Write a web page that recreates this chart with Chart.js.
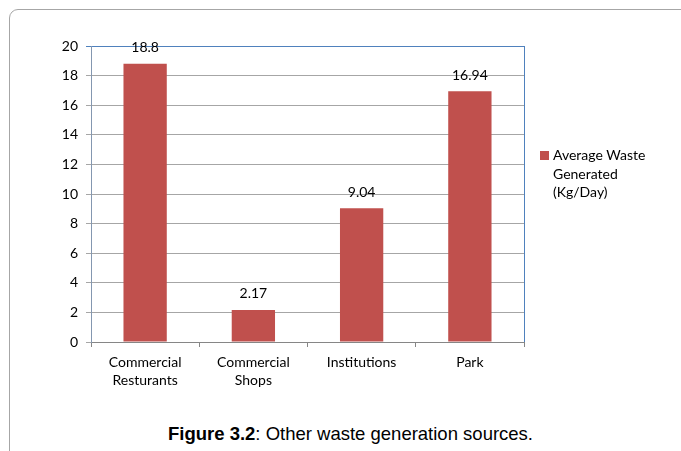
<!DOCTYPE html>
<html>
<head>
<meta charset="utf-8">
<script src="https://cdn.jsdelivr.net/npm/chart.js@4.4.0/dist/chart.umd.min.js"></script>
<style>
  body { margin: 0; background: #fff; width: 681px; height: 451px; overflow: hidden; position: relative; }
  #frame { position: absolute; left: 9px; top: 9px; width: 700px; height: 480px; border: 1px solid #a6a6a6; border-radius: 9px; box-sizing: border-box; }
  #chartBox { position: absolute; left: 0; top: 0; width: 681px; height: 400px; }
  #legend { position: absolute; left: 540px; top: 146px; font-family: Lato, "Open Sans", sans-serif; font-size: 14px; line-height: 18.5px; color: #000; }
  #legend .box { position: absolute; left: 0; top: 5px; width: 9px; height: 9px; background: #c0504d; }
  #legend .txt { margin-left: 13px; }
  #caption { position: absolute; left: 10px; width: 681px; top: 423px; text-align: center; font-family: "Liberation Sans", Arial, sans-serif; font-size: 18.5px; color: #000; }
</style>
</head>
<body>
<div id="frame"></div>
<div id="chartBox"><canvas id="chart" width="681" height="400"></canvas></div>
<div id="legend"><span class="box"></span><div class="txt">Average Waste<br>Generated<br>(Kg/Day)</div></div>
<div id="caption"><b>Figure 3.2</b>: Other waste generation sources.</div>
<script>
'use strict';

// data
const categories = [['Commercial', 'Resturants'], ['Commercial', 'Shops'], 'Institutions', 'Park'];
const wasteValues = [18.8, 2.17, 9.04, 16.94];
const seriesName = 'Average Waste Generated (Kg/Day)';
const yTicks = [0, 2, 4, 6, 8, 10, 12, 14, 16, 18, 20];

const barColor = '#c0504d';
const gridColor = '#a6a6a6';
const frameBlue = '#4f81bd';
const fontFamily = 'Lato, "Open Sans", sans-serif';

// value labels + blue right border
const extrasPlugin = {
  id: 'extras',
  afterDatasetsDraw(chart) {
    const ctx = chart.ctx;
    const area = chart.chartArea;
    ctx.save();
    ctx.strokeStyle = frameBlue;
    ctx.lineWidth = 1;
    ctx.beginPath();
    ctx.moveTo(area.right + 0.5, area.top);
    ctx.lineTo(area.right + 0.5, area.bottom);
    ctx.stroke();

    ctx.fillStyle = '#000';
    ctx.font = '14px ' + fontFamily;
    ctx.textAlign = 'center';
    ctx.textBaseline = 'middle';
    const meta = chart.getDatasetMeta(0);
    meta.data.forEach(function (bar, i) {
      ctx.fillText(String(wasteValues[i]), bar.x, bar.y - 16);
    });
    ctx.restore();
  }
};

const ctx = document.getElementById('chart').getContext('2d');
new Chart(ctx, {
  type: 'bar',
  data: {
    labels: categories,
    datasets: [{
      label: seriesName,
      data: wasteValues,
      backgroundColor: barColor,
      borderWidth: 0,
      barPercentage: 0.4,
      categoryPercentage: 1
    }]
  },
  options: {
    responsive: false,
    animation: false,
    layout: { padding: { left: 0, top: 46, right: 157, bottom: 0 } },
    plugins: {
      legend: { display: false },
      tooltip: { enabled: false }
    },
    scales: {
      x: {
        offset: true,
        grid: {
          offset: true,
          drawOnChartArea: false,
          drawTicks: true,
          tickLength: 5,
          color: '#868686'
        },
        border: { color: '#868686', width: 1 },
        ticks: {
          color: '#000',
          padding: 6,
          font: { family: fontFamily, size: 14, lineHeight: 1.3 },
          maxRotation: 0
        },
        afterFit(scale) { scale.height = 58; }
      },
      y: {
        min: 0,
        max: 20,
        afterBuildTicks(scale) { scale.ticks = yTicks.map(v => ({ value: v })); },
        grid: {
          color: (c) => c.tick && c.tick.value === 20 ? frameBlue : gridColor,
          tickLength: 5,
          lineWidth: 1
        },
        border: { color: '#8497b0', width: 1 },
        ticks: {
          color: '#000',
          padding: 8,
          font: { family: fontFamily, size: 14 }
        },
        afterFit(scale) { scale.width = 91; }
      }
    }
  },
  plugins: [extrasPlugin]
});
</script>
</body>
</html>
